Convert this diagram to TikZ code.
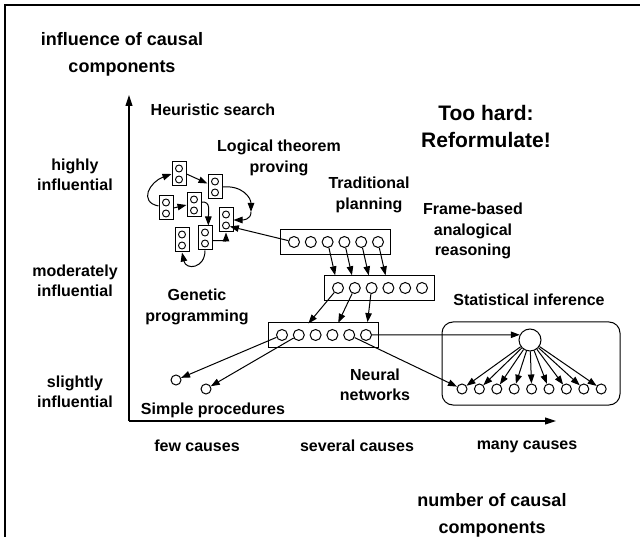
\documentclass[tikz,border=0pt]{standalone}
\usepackage{fontspec}
\setmainfont{Liberation Sans}
\usetikzlibrary{arrows.meta}

\begin{document}
\begin{tikzpicture}[x=1pt,y=-1pt,
  lbl/.style={font=\fontsize{16}{20.5}\selectfont\bfseries, align=center, inner sep=0pt},
  ttl/.style={font=\fontsize{18}{27}\selectfont\bfseries, align=center, inner sep=0pt},
  big/.style={font=\fontsize{21}{27}\selectfont\bfseries, align=center, inner sep=0pt},
  unit/.style={circle, draw, line width=1pt, minimum size=11pt, inner sep=0pt},
  dot/.style={circle, draw, line width=0.9pt, minimum size=7pt, inner sep=0pt},
  hub/.style={circle, draw, line width=1pt, minimum size=22pt, inner sep=0pt},
  layer/.style={draw, line width=1pt, minimum width=110pt, minimum height=25pt, inner sep=0pt},
  cell/.style={draw, line width=1pt, minimum width=14pt, minimum height=24pt, inner sep=0pt},
  link/.style={line width=1pt, -{Triangle[length=9pt,width=6.5pt]}},
  axis/.style={line width=1.1pt, -{Triangle[length=11pt,width=7pt]}},
]
\useasboundingbox (0,0) rectangle (640,537);

% outer frame
\draw[line width=2pt] (5,537) -- (5,5) -- (640,5);

% axes
\coordinate (O) at (129,421);
\coordinate (ytip) at (129,95);
\coordinate (xtip) at (556,421);
\draw[axis] (O) -- (ytip);
\draw[axis] (O) -- (xtip);

% axis titles and scale labels
\node[ttl] (ytitle) at (122,54) {influence of causal\\components};
\node[ttl] (xtitle) at (492,515) {number of causal\\components};
\node[lbl] (hi) at (75,175) {highly\\influential};
\node[lbl] (mid) at (75,281) {moderately\\influential};
\node[lbl] (lo) at (75,392) {slightly\\influential};
\node[lbl] (few) at (197,446) {few causes};
\node[lbl] (sev) at (357,446) {several causes};
\node[lbl] (many) at (527,447) {many causes};

% method labels
\node[lbl] (heur) at (213,110) {Heuristic search};
\node[lbl] (logic) at (279,158) {Logical theorem\\proving};
\node[lbl] (trad) at (369,195) {Traditional\\planning};
\node[lbl] (frame) at (473,231) {Frame-based\\analogical\\reasoning};
\node[big] (hard) at (486,126) {Too hard:\\Reformulate!};
\node[lbl] (stat) at (529,300) {Statistical inference};
\node[lbl] (gen) at (197,307) {Genetic\\programming};
\node[lbl] (neur) at (375,385) {Neural\\networks};
\node[lbl] (simple) at (213,410) {Simple procedures};

% theorem-proving cells, each holding two units
\foreach \n/\x/\y in {1/179/174, 2/215/187, 3/166/208, 4/194/205, 5/226/220, 6/182/240, 7/205/238} {
  \node[cell] (B\n) at (\x,\y) {};
  \node[dot] (B\n-a) at (\x,\y-5.5) {};
  \node[dot] (B\n-b) at (\x,\y+5.5) {};
}
\coordinate (k) at (251,212);
\draw[link] (B3.165) .. controls +(-20,-4) and +(-22,8) .. (B1.west);
\draw[link] (B1.east) -- (B2.155);
\draw[link] (B2.east) .. controls +(20,-2) and +(0,-14) .. (k);
\draw[link] (k) .. controls +(0,8) and +(9,0) .. (B5.east);
\draw[link] (B3.east) -- (B4.west);
\draw[link] (B4.20) .. controls +(10,-2) and +(0,-12) .. (B7.75);
\draw[link] (B7.-20) .. controls +(8,0) and +(0,8) .. (B5.south);
\draw[link] (B7.south) .. controls +(0,18) and +(4,18) .. (B6.south);

% three layers of units
\node[layer] (ra) at (335,242) {};
\node[layer] (rb) at (379,288) {};
\node[layer] (rc) at (323,335) {};
\foreach \i in {1,...,6} {
  \node[unit] (ra\i) at ({280+14+16.8*(\i-1)},242) {};
  \node[unit] (rb\i) at ({324+14+16.8*(\i-1)},288) {};
  \node[unit] (rc\i) at ({268+14+16.8*(\i-1)},335) {};
}
\draw[link] (ra1) -- (B5-b);
% arrows stop at the upper edge of the next layer
\foreach \s/\t in {3/1, 4/2, 5/3, 6/4}
  \draw[link, shorten >=7pt] (ra\s) -- (rb\t);
\foreach \s/\t/\g in {1/2/9, 2/4/7.5, 3/6/7}
  \draw[link, shorten >=\g pt] (rb\s) -- (rc\t);

% simple procedures
\node[unit, minimum size=10pt] (s1) at (176,380) {};
\node[unit, minimum size=10pt] (s2) at (206,389) {};
\draw[link] (rc1) -- (s1);
\draw[link] (rc2) -- (s2);

% statistical inference
\draw[line width=1pt, rounded corners=11pt] (442,322) rectangle (620,405);
\node[hub] (hubc) at (530,340) {};
\foreach \i in {1,...,9} {
  \node[unit, minimum size=10pt] (t\i) at ({462+17.4*(\i-1)},389) {};
  \draw[link] (hubc) -- (t\i);
}
\draw[link] (rc6.east) -- (hubc.153);
\draw[link] (rc5) -- (t1);
\end{tikzpicture}
\end{document}
